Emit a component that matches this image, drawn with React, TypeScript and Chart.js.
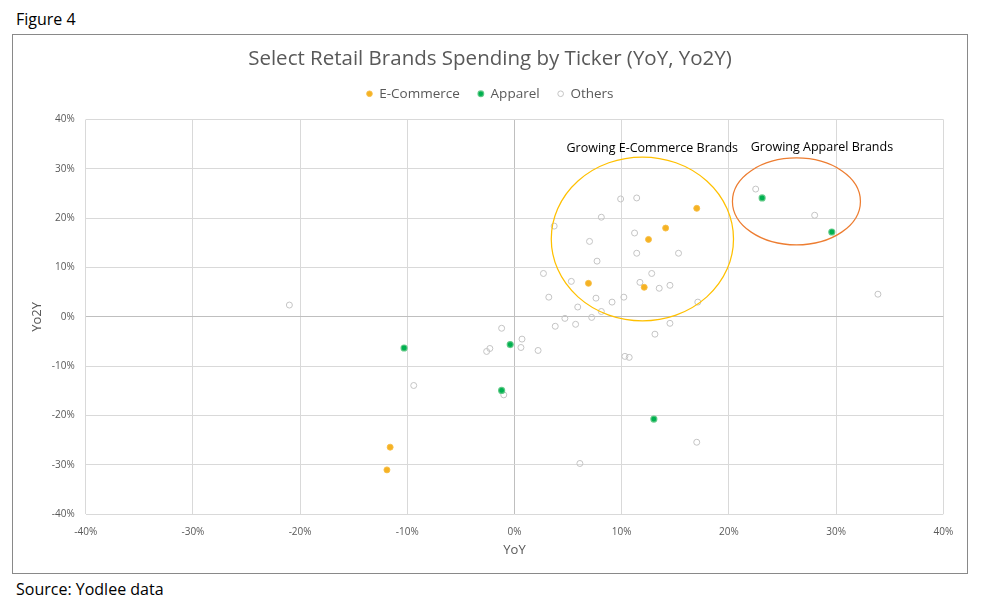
import React, { useEffect, useRef } from "react";
import { Chart, registerables } from "chart.js";

Chart.register(...registerables);

// ---- Data (values in %) ----
const ecomX = [17.0, 14.1, 12.5, 6.9, 12.1, -11.6, -11.9];
const ecomY = [22.0, 18.0, 15.7, 6.8, 6.0, -26.4, -31.0];

const apparelX = [23.1, 29.6, -10.3, -0.4, -1.2, 13.0];
const apparelY = [24.1, 17.2, -6.3, -5.6, -14.9, -20.7];

const othersX = [
  -21.0, -9.4, -1.2, 0.7, 0.6, -2.6, -2.3, 2.2, -1.0, 9.9, 11.4, 8.1, 3.7, 11.2, 7.0,
  11.4, 15.3, 7.7, 2.7, 12.8, 5.3, 11.7, 14.5, 13.5, 3.2, 7.6, 10.2, 9.1, 17.1, 5.9,
  8.1, 4.7, 7.2, 14.5, 3.8, 5.7, 13.1, 10.3, 10.7, 22.5, 28.0, 33.9, 17.0, 6.1,
];
const othersY = [
  2.4, -13.9, -2.3, -4.5, -6.2, -7.0, -6.4, -6.8, -15.8, 23.9, 24.1, 20.2, 18.4, 17.0, 15.3,
  12.9, 12.9, 11.3, 8.8, 8.8, 7.2, 7.0, 6.4, 5.8, 4.0, 3.8, 4.0, 3.0, 3.0, 2.0,
  1.1, -0.3, -0.1, -1.3, -1.9, -1.5, -3.5, -8.0, -8.2, 25.9, 20.6, 4.6, -25.4, -29.7,
];

const seriesNames = ["E-Commerce", "Apparel", "Others"];
const axisMin = -40;
const axisMax = 40;
const axisStep = 10;

// Highlight ellipses (centre and radii in data units) and their labels
const ellipseNames = ["Growing E-Commerce Brands", "Growing Apparel Brands"];
const ellipseCX = [11.93, 26.3];
const ellipseCY = [15.8, 23.4];
const ellipseRX = [8.5, 5.97];
const ellipseRY = [16.6, 8.8];
const labelX = [12.85, 28.68];
const labelY = [34.2, 34.4];

const FONT = "'Open Sans', sans-serif";
const TEXT_GREY = "#595959";

const toPoints = (xs: number[], ys: number[]) => xs.map((x, i) => ({ x, y: ys[i] }));

const ellipsePlugin = {
  id: "ellipses",
  afterDatasetsDraw(chart: any) {
    const { ctx } = chart;
    const xs = chart.scales.x;
    const ys = chart.scales.y;
    const colors = ["#FFC000", "#ED7D31"];
    ctx.save();
    for (let i = 0; i < ellipseNames.length; i++) {
      const cx = xs.getPixelForValue(ellipseCX[i]);
      const cy = ys.getPixelForValue(ellipseCY[i]);
      const rx = Math.abs(xs.getPixelForValue(ellipseCX[i] + ellipseRX[i]) - cx);
      const ry = Math.abs(ys.getPixelForValue(ellipseCY[i] + ellipseRY[i]) - cy);
      ctx.beginPath();
      ctx.ellipse(cx, cy, rx, ry, 0, 0, Math.PI * 2);
      ctx.strokeStyle = colors[i];
      ctx.lineWidth = 1.25;
      ctx.stroke();
    }
    ctx.font = `12.5px ${FONT}`;
    ctx.fillStyle = "#000000";
    ctx.textAlign = "center";
    ctx.textBaseline = "middle";
    for (let i = 0; i < ellipseNames.length; i++) {
      ctx.fillText(ellipseNames[i], xs.getPixelForValue(labelX[i]), ys.getPixelForValue(labelY[i]));
    }
    ctx.restore();
  },
};

export default function App() {
  const canvasRef = useRef<HTMLCanvasElement | null>(null);

  useEffect(() => {
    if (!canvasRef.current) return;
    Chart.defaults.font.family = FONT;
    const chart = new Chart(canvasRef.current, {
      type: "scatter",
      data: {
        datasets: [
          {
            label: seriesNames[0],
            data: toPoints(ecomX, ecomY),
            backgroundColor: "#F5B223",
            borderColor: "rgba(247,190,70,0.9)",
            borderWidth: 1,
            pointRadius: 3,
          },
          {
            label: seriesNames[1],
            data: toPoints(apparelX, apparelY),
            backgroundColor: "#00B050",
            borderColor: "rgba(90,200,130,0.9)",
            borderWidth: 1.2,
            pointRadius: 3,
          },
          {
            label: seriesNames[2],
            data: toPoints(othersX, othersY),
            backgroundColor: "rgba(255,255,255,0)",
            borderColor: "#C4C4C4",
            borderWidth: 1,
            pointRadius: 3,
          },
        ],
      },
      options: {
        responsive: false,
        animation: false,
        layout: { padding: { left: 23.7, right: 23.7, top: 0, bottom: 0 } },
        plugins: {
          title: {
            display: true,
            text: "Select Retail Brands Spending by Ticker (YoY, Yo2Y)",
            color: TEXT_GREY,
            font: { size: 20.5, weight: "normal", lineHeight: 1 },
            padding: { top: 13.5, bottom: 0 },
          },
          subtitle: {
            display: true,
            text: "",
            weight: 500,
            font: { size: 9, lineHeight: 1 },
            padding: 0,
          } as any,
          legend: {
            display: true,
            position: "top",
            labels: {
              usePointStyle: true,
              pointStyle: "circle",
              boxWidth: 6,
              boxHeight: 4,
              padding: 18,
              color: TEXT_GREY,
              font: { size: 13.5 },
            },
          },
          tooltip: { enabled: false },
        },
        scales: {
          x: {
            type: "linear",
            min: axisMin,
            max: axisMax,
            ticks: {
              stepSize: axisStep,
              color: TEXT_GREY,
              font: { size: 10 },
              padding: 12,
              callback: (v: any) => `${v}%`,
            },
            grid: {
              drawTicks: false,
              color: (c: any) => (c.tick && c.tick.value === 0 ? "#BFBFBF" : "#D9D9D9"),
            },
            border: { display: false },
            title: {
              display: true,
              text: "YoY",
              color: TEXT_GREY,
              font: { size: 13 },
              padding: 15,
            },
            afterFit: (s: any) => {
              s.height = 58.7;
            },
          },
          y: {
            type: "linear",
            min: axisMin,
            max: axisMax,
            ticks: {
              stepSize: axisStep,
              color: TEXT_GREY,
              font: { size: 10 },
              padding: 11,
              callback: (v: any) => `${v}%`,
            },
            grid: {
              drawTicks: false,
              color: (c: any) => (c.tick && c.tick.value === 0 ? "#BFBFBF" : "#D9D9D9"),
            },
            border: { display: false },
            title: {
              display: true,
              text: "Yo2Y",
              color: TEXT_GREY,
              font: { size: 13 },
              padding: { top: -7.5, bottom: 0 },
            },
            afterFit: (s: any) => {
              s.width = 49;
            },
          },
        },
      },
      plugins: [ellipsePlugin],
    } as any);
    return () => chart.destroy();
  }, []);

  return (
    <div style={{ position: "relative", width: 981, height: 590, fontFamily: FONT }}>
      <div
        style={{
          position: "absolute",
          left: 8,
          top: 3,
          fontSize: 16,
          lineHeight: "16px",
          color: "#000",
          whiteSpace: "nowrap",
        }}
      >
        Figure 4
      </div>
      <div
        style={{
          position: "absolute",
          left: 4,
          top: 26,
          width: 956,
          height: 540,
          border: "1px solid #898989",
          boxSizing: "border-box",
          background: "#fff",
        }}
      >
        <canvas
          ref={canvasRef}
          width={954}
          height={538}
          style={{ display: "block", width: 954, height: 538 }}
        />
      </div>
      <div
        style={{
          position: "absolute",
          left: 8,
          top: 573,
          fontSize: 16,
          lineHeight: "16px",
          color: "#000",
          whiteSpace: "nowrap",
        }}
      >
        Source: Yodlee data
      </div>
    </div>
  );
}
